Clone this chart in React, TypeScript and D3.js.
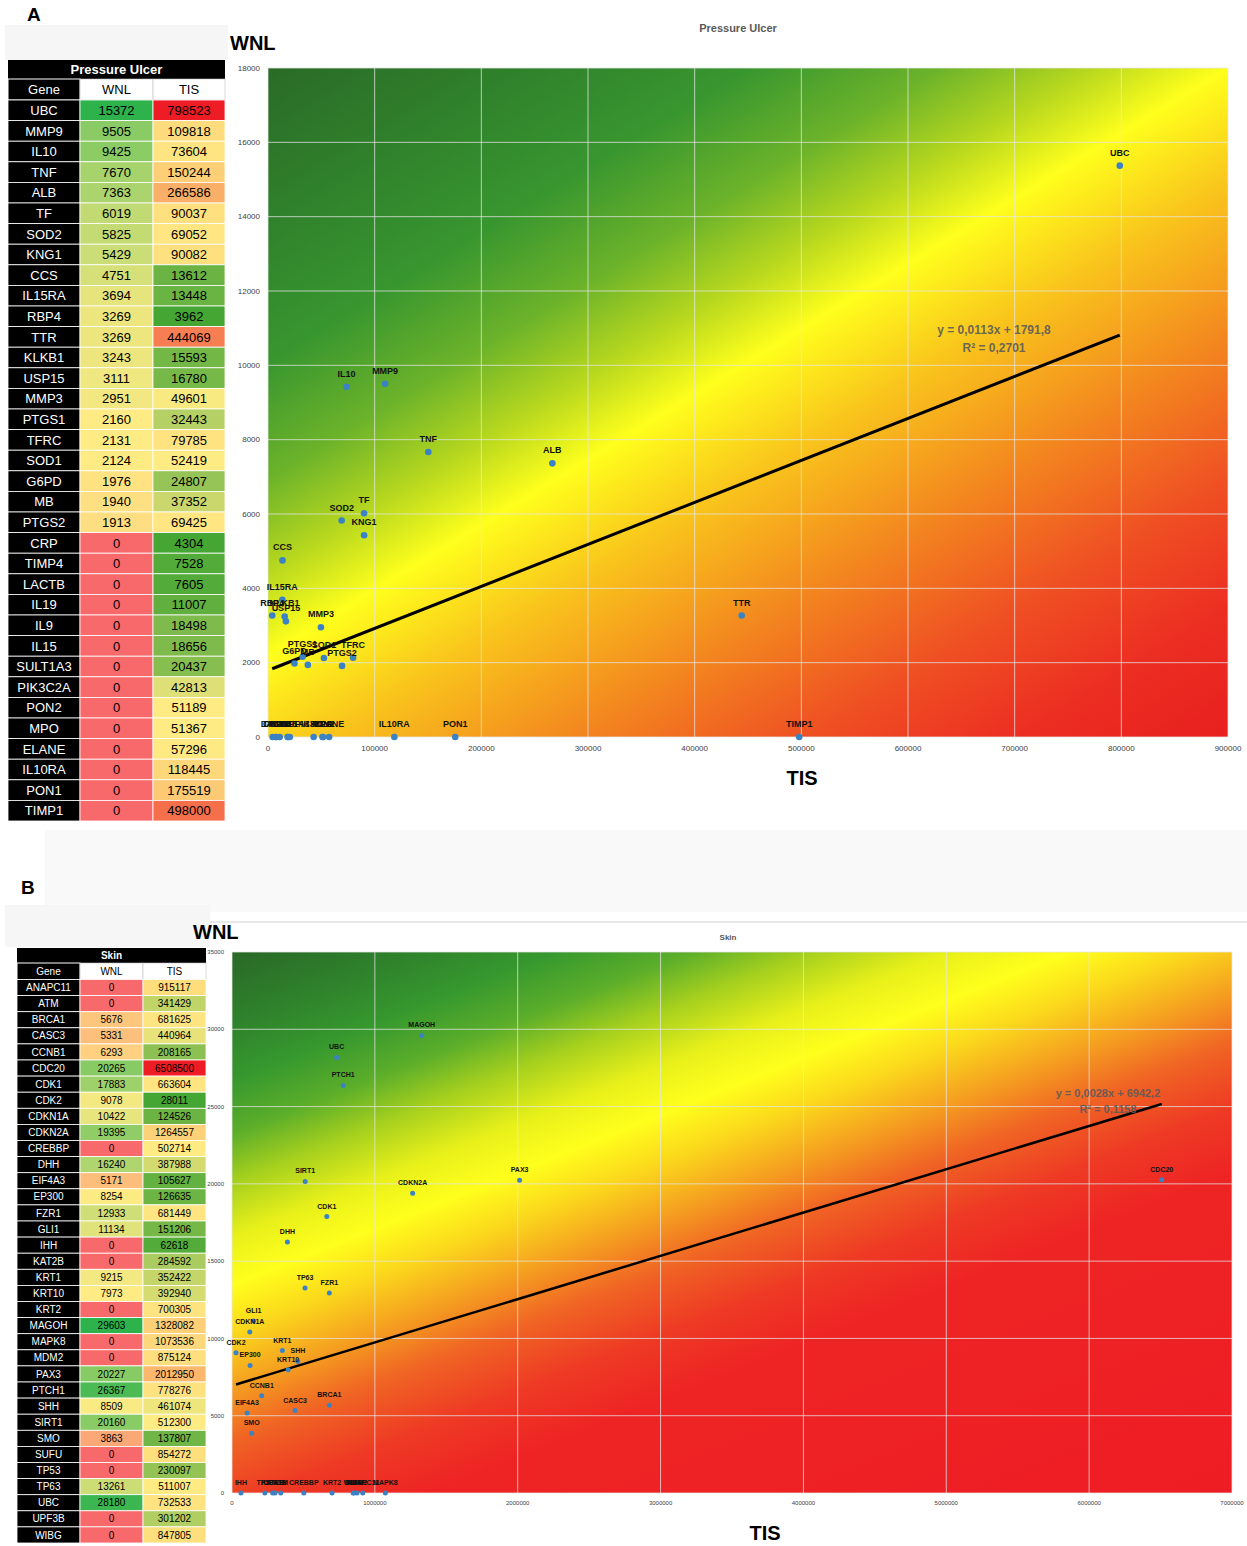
import React from "react";
import * as d3 from "d3";

// ---------- DATA ----------
const genesA = ["UBC","MMP9","IL10","TNF","ALB","TF","SOD2","KNG1","CCS","IL15RA","RBP4","TTR","KLKB1","USP15","MMP3","PTGS1","TFRC","SOD1","G6PD","MB","PTGS2","CRP","TIMP4","LACTB","IL19","IL9","IL15","SULT1A3","PIK3C2A","PON2","MPO","ELANE","IL10RA","PON1","TIMP1"];
const wnlA = [15372,9505,9425,7670,7363,6019,5825,5429,4751,3694,3269,3269,3243,3111,2951,2160,2131,2124,1976,1940,1913,0,0,0,0,0,0,0,0,0,0,0,0,0,0];
const tisA = [798523,109818,73604,150244,266586,90037,69052,90082,13612,13448,3962,444069,15593,16780,49601,32443,79785,52419,24807,37352,69425,4304,7528,7605,11007,18498,18656,20437,42813,51189,51367,57296,118445,175519,498000];

const genesB = ["ANAPC11","ATM","BRCA1","CASC3","CCNB1","CDC20","CDK1","CDK2","CDKN1A","CDKN2A","CREBBP","DHH","EIF4A3","EP300","FZR1","GLI1","IHH","KAT2B","KRT1","KRT10","KRT2","MAGOH","MAPK8","MDM2","PAX3","PTCH1","SHH","SIRT1","SMO","SUFU","TP53","TP63","UBC","UPF3B","WIBG"];
const wnlB = [0,0,5676,5331,6293,20265,17883,9078,10422,19395,0,16240,5171,8254,12933,11134,0,0,9215,7973,0,29603,0,0,20227,26367,8509,20160,3863,0,0,13261,28180,0,0];
const tisB = [915117,341429,681625,440964,208165,6508500,663604,28011,124526,1264557,502714,387988,105627,126635,681449,151206,62618,284592,352422,392940,700305,1328082,1073536,875124,2012950,778276,461074,512300,137807,854272,230097,511007,732533,301202,847805];

const xTicksA = [0,100000,200000,300000,400000,500000,600000,700000,800000,900000];
const yTicksA = [0,2000,4000,6000,8000,10000,12000,14000,16000,18000];
const xTicksB = [0,1000000,2000000,3000000,4000000,5000000,6000000,7000000];
const yTicksB = [0,5000,10000,15000,20000,25000,30000,35000];

const trendSlopeA = 0.0113;
const trendInterceptA = 1791.8;
const r2TextA = "0,2701";
const trendSlopeB = 0.0028;
const trendInterceptB = 6942.2;
const r2TextB = "0,1158";

// ---------- STYLE ----------
const FONT = "'Liberation Sans', Arial, sans-serif";
const POINT = "#3b82c4";

const gradStopsA: [number, string][] = [
  [-501, "#2a6b27"], [-380, "#2f7f2b"], [-250, "#38962f"], [-150, "#6cb32a"],
  [-70, "#b8d81e"], [0, "#ffff1c"], [100, "#f9c41c"], [230, "#f3861f"],
  [350, "#ef5023"], [460, "#ec2e22"], [571, "#e8201f"],
];
const gradStopsB: [number, string][] = [
  [-305, "#2a6a27"], [-250, "#2e7f2b"], [-190, "#36982e"], [-140, "#5cae2a"],
  [-95, "#a6d01e"], [-45, "#e8f01a"], [0, "#ffff1c"], [45, "#fbd81c"],
  [95, "#f5a020"], [145, "#f06424"], [205, "#ee3a24"], [265, "#ee2424"], [590, "#ee1c24"],
];

function formatNum(v: number) {
  return String(v);
}

function fmtCoef(v: number, digits: number) {
  return v.toFixed(digits).replace(".", ",");
}

type ScatterProps = {
  id: string;
  genes: string[];
  wnl: number[];
  tis: number[];
  left: number; top: number; right: number; bottom: number;
  xMax: number; yMax: number;
  xTicks: number[]; yTicks: number[];
  tickFont: number;
  labelFont: number;
  labelOffset: number;
  pointR: number;
  slope: number; intercept: number; r2: string;
  eqX: number; eqY: number; eqFont: number; eqGap: number;
  gradAnchor: [number, number]; gradNormal: [number, number];
  gradStops: [number, string][];
  lineW: number;
};

function Scatter(p: ScatterProps) {
  const x = d3.scaleLinear().domain([0, p.xMax]).range([p.left, p.right]);
  const y = d3.scaleLinear().domain([0, p.yMax]).range([p.bottom, p.top]);
  const [ax, ay] = p.gradAnchor;
  const [nx, ny] = p.gradNormal;
  const nl = Math.hypot(nx, ny);
  const ux = nx / nl, uy = ny / nl;
  const proj = (px: number, py: number) => (px - ax) * ux + (py - ay) * uy;
  const dmin = Math.min(p.gradStops[0][0], proj(p.left, p.top));
  const dmax = Math.max(p.gradStops[p.gradStops.length - 1][0], proj(p.right, p.bottom));
  const gx1 = ax + ux * dmin, gy1 = ay + uy * dmin;
  const gx2 = ax + ux * dmax, gy2 = ay + uy * dmax;
  const xmin = d3.min(p.tis) as number;
  const xmaxD = d3.max(p.tis) as number;
  const line = d3.line<number>().x((v) => x(v)).y((v) => y(p.slope * v + p.intercept));
  return (
    <g>
      <defs>
        <linearGradient id={p.id} gradientUnits="userSpaceOnUse" x1={gx1} y1={gy1} x2={gx2} y2={gy2}>
          {p.gradStops.map(([d, c], i) => (
            <stop key={i} offset={(d - dmin) / (dmax - dmin)} stopColor={c} />
          ))}
        </linearGradient>
      </defs>
      <rect x={p.left} y={p.top} width={p.right - p.left} height={p.bottom - p.top} fill={`url(#${p.id})`} />
      {p.xTicks.map((t) => (
        <line key={"gx" + t} x1={x(t)} x2={x(t)} y1={p.top} y2={p.bottom} stroke="#e6e6e6" strokeOpacity={0.75} strokeWidth={1} />
      ))}
      {p.yTicks.map((t) => (
        <line key={"gy" + t} x1={p.left} x2={p.right} y1={y(t)} y2={y(t)} stroke="#e6e6e6" strokeOpacity={0.75} strokeWidth={1} />
      ))}
      {p.yTicks.map((t) => (
        <text key={"ty" + t} x={p.left - 8} y={y(t)} dy="0.35em" textAnchor="end" fontSize={p.tickFont} fill="#404040" fontFamily={FONT}>
          {formatNum(t)}
        </text>
      ))}
      {p.xTicks.map((t) => (
        <text key={"tx" + t} x={x(t)} y={p.bottom + p.tickFont + 6} textAnchor="middle" fontSize={p.tickFont} fill="#404040" fontFamily={FONT}>
          {formatNum(t)}
        </text>
      ))}
      <path d={line([xmin, xmaxD]) || ""} stroke="#000" strokeWidth={p.lineW} fill="none" />
      {p.genes.map((g, i) => (
        <circle key={"c" + g} cx={x(p.tis[i])} cy={y(p.wnl[i])} r={p.pointR} fill={POINT} />
      ))}
      {p.genes.map((g, i) => (
        <text key={"l" + g} x={x(p.tis[i])} y={y(p.wnl[i]) - p.labelOffset} textAnchor="middle" fontSize={p.labelFont} fontWeight="bold" fill="#111" fontFamily={FONT}>
          {g}
        </text>
      ))}
      <text x={p.eqX} y={p.eqY} textAnchor="middle" fontSize={p.eqFont} fontWeight="bold" fill="#5a5a5a" fillOpacity={0.9} fontFamily={FONT}>
        {`y = ${fmtCoef(p.slope, 4)}x + ${fmtCoef(p.intercept, 1)}`}
      </text>
      <text x={p.eqX} y={p.eqY + p.eqGap} textAnchor="middle" fontSize={p.eqFont} fontWeight="bold" fill="#5a5a5a" fillOpacity={0.9} fontFamily={FONT}>
        {`R² = ${p.r2}`}
      </text>
    </g>
  );
}

type TableProps = {
  title: string;
  genes: string[]; wnl: number[]; tis: number[];
  x: number; y: number; cols: [number, number, number];
  titleH: number; headerH: number; rowH: number; font: number;
  geneHeaderDark: boolean;
};

function DataTable(p: TableProps) {
  const [cg, cw, ct] = p.cols;
  const totalW = cg + cw + ct;
  const wSorted = [...p.wnl].sort(d3.ascending);
  const tSorted = [...p.tis].sort(d3.ascending);
  const wColor = d3.scaleLinear<string>()
    .domain([wSorted[0], d3.quantileSorted(wSorted, 0.5) as number, wSorted[wSorted.length - 1]])
    .range(["#f8696b", "#ffeb84", "#2db24c"]);
  const tColor = d3.scaleLinear<string>()
    .domain([tSorted[0], d3.quantileSorted(tSorted, 0.5) as number, tSorted[tSorted.length - 1]])
    .range(["#45a633", "#ffeb84", "#ee1c24"]);
  const hy = p.y + p.titleH;
  const ry = hy + p.headerH;
  return (
    <g fontFamily={FONT}>
      <rect x={p.x} y={p.y} width={totalW} height={p.titleH} fill="#000" />
      <text x={p.x + totalW / 2} y={p.y + p.titleH / 2} dy="0.36em" textAnchor="middle" fill="#fff" fontWeight="bold" fontSize={p.font}>
        {p.title}
      </text>
      <rect x={p.x} y={hy} width={cg} height={p.headerH} fill={p.geneHeaderDark ? "#000" : "#fff"} stroke="#fff" />
      <rect x={p.x + cg} y={hy} width={cw} height={p.headerH} fill="#fff" stroke="#bfbfbf" strokeWidth={0.6} />
      <rect x={p.x + cg + cw} y={hy} width={ct} height={p.headerH} fill="#fff" stroke="#bfbfbf" strokeWidth={0.6} />
      <text x={p.x + cg / 2} y={hy + p.headerH / 2} dy="0.36em" textAnchor="middle" fontSize={p.font} fill={p.geneHeaderDark ? "#fff" : "#000"}>Gene</text>
      <text x={p.x + cg + cw / 2} y={hy + p.headerH / 2} dy="0.36em" textAnchor="middle" fontSize={p.font} fill="#000">WNL</text>
      <text x={p.x + cg + cw + ct / 2} y={hy + p.headerH / 2} dy="0.36em" textAnchor="middle" fontSize={p.font} fill="#000">TIS</text>
      {p.genes.map((g, i) => {
        const yy = ry + i * p.rowH;
        return (
          <g key={g}>
            <rect x={p.x} y={yy} width={cg} height={p.rowH} fill="#000" stroke="#fff" strokeWidth={0.8} />
            <rect x={p.x + cg} y={yy} width={cw} height={p.rowH} fill={wColor(p.wnl[i])} stroke="#fff" strokeWidth={0.8} />
            <rect x={p.x + cg + cw} y={yy} width={ct} height={p.rowH} fill={tColor(p.tis[i])} stroke="#fff" strokeWidth={0.8} />
            <text x={p.x + cg / 2} y={yy + p.rowH / 2} dy="0.36em" textAnchor="middle" fontSize={p.font} fill="#fff">{g}</text>
            <text x={p.x + cg + cw / 2} y={yy + p.rowH / 2} dy="0.36em" textAnchor="middle" fontSize={p.font} fill="#000">{p.wnl[i]}</text>
            <text x={p.x + cg + cw + ct / 2} y={yy + p.rowH / 2} dy="0.36em" textAnchor="middle" fontSize={p.font} fill="#000">{p.tis[i]}</text>
          </g>
        );
      })}
    </g>
  );
}

export default function App() {
  return (
    <svg width={1247} height={1546} style={{ position: "absolute", left: 0, top: 0, background: "#fff" }} fontFamily={FONT}>
      {/* faint backgrounds */}
      <rect x={5} y={25} width={223} height={35} fill="#f6f6f6" />
      <rect x={45} y={830} width={1202} height={82} fill="#f9f9f9" />
      <rect x={5} y={905} width={205} height={42} fill="#f6f6f6" />
      <line x1={210} x2={1247} y1={922} y2={922} stroke="#e0e0e0" strokeWidth={1.5} />

      {/* Panel A */}
      <text x={27} y={21} fontSize={19} fontWeight="bold" fill="#000">A</text>
      <DataTable title="Pressure Ulcer" genes={genesA} wnl={wnlA} tis={tisA} x={8} y={60} cols={[72, 73, 72]}
        titleH={19} headerH={21} rowH={20.6} font={13} geneHeaderDark={true} />
      <text x={230} y={50} fontSize={20} fontWeight="bold" fill="#000">WNL</text>
      <text x={738} y={32} textAnchor="middle" fontSize={11} fontWeight="bold" fill="#595959">Pressure Ulcer</text>
      <Scatter id="gradA" genes={genesA} wnl={wnlA} tis={tisA}
        left={268} top={68} right={1228} bottom={737} xMax={900000} yMax={18000}
        xTicks={xTicksA} yTicks={yTicksA} tickFont={8} labelFont={9} labelOffset={10} pointR={3.3}
        slope={trendSlopeA} intercept={trendInterceptA} r2={r2TextA}
        eqX={994} eqY={334} eqFont={12} eqGap={18}
        gradAnchor={[268, 655]} gradNormal={[0.522, 0.853]} gradStops={gradStopsA} lineW={3} />
      <text x={802} y={785} textAnchor="middle" fontSize={20} fontWeight="bold" fill="#000">TIS</text>

      {/* Panel B */}
      <text x={21} y={894} fontSize={19} fontWeight="bold" fill="#000">B</text>
      <DataTable title="Skin" genes={genesB} wnl={wnlB} tis={tisB} x={17} y={948} cols={[63, 63, 63]}
        titleH={15} headerH={16.5} rowH={16.1} font={10} geneHeaderDark={true} />
      <text x={193} y={939} fontSize={20} fontWeight="bold" fill="#000">WNL</text>
      <text x={728} y={940} textAnchor="middle" fontSize={8} fontWeight="bold" fill="#595959">Skin</text>
      <Scatter id="gradB" genes={genesB} wnl={wnlB} tis={tisB}
        left={232} top={952} right={1232} bottom={1493} xMax={7000000} yMax={35000}
        xTicks={xTicksB} yTicks={yTicksB} tickFont={6} labelFont={7} labelOffset={8} pointR={2.5}
        slope={trendSlopeB} intercept={trendInterceptB} r2={r2TextB}
        eqX={1108} eqY={1097} eqFont={11} eqGap={16}
        gradAnchor={[232, 1285]} gradNormal={[0.37, 0.93]} gradStops={gradStopsB} lineW={2.5} />
      <text x={765} y={1540} textAnchor="middle" fontSize={20} fontWeight="bold" fill="#000">TIS</text>
    </svg>
  );
}
